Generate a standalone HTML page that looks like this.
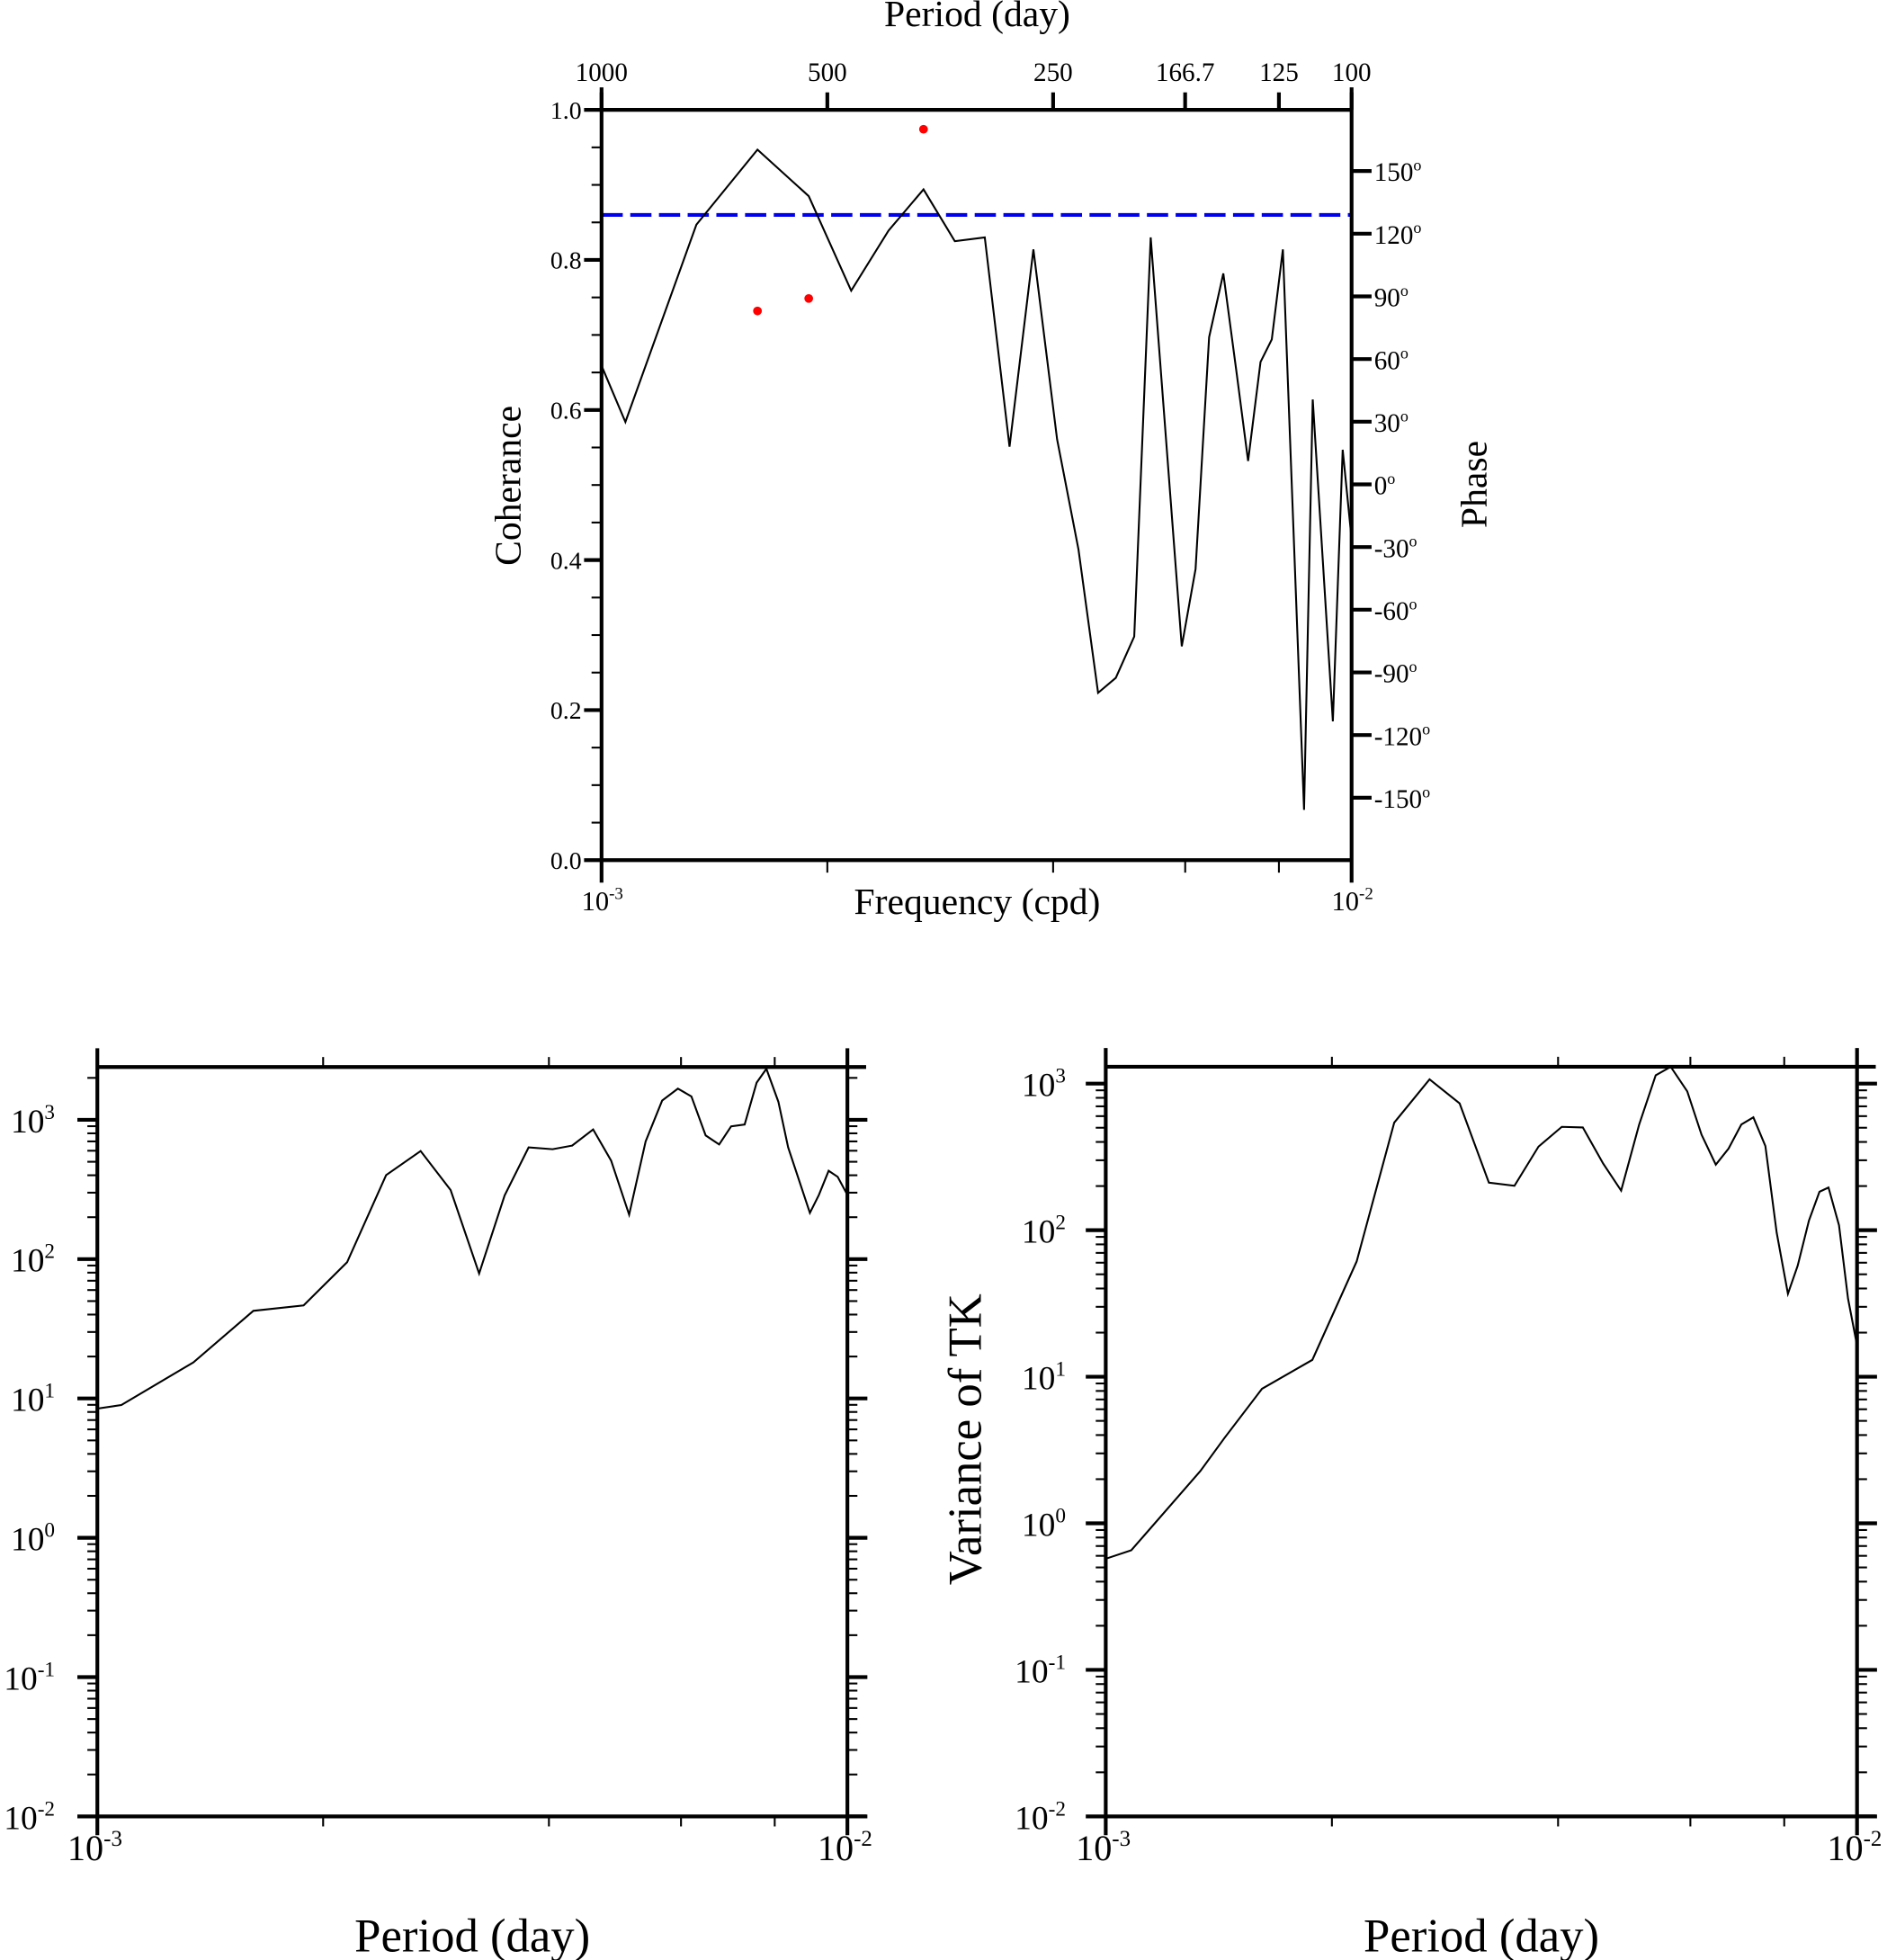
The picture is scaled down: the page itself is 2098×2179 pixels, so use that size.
<!DOCTYPE html>
<html><head><meta charset="utf-8"><style>
html,body{margin:0;padding:0;background:#fff;}
svg{display:block;font-family:"Liberation Serif",serif;}
</style></head><body>
<svg id="fig" width="2098" height="2179" viewBox="0 0 1512 1570" preserveAspectRatio="none" xmlns="http://www.w3.org/2000/svg"></svg>
<script>
// ---- Coherence/phase chart data ----
const cohFreq = [1.0e-3,1.076e-3,1.338e-3,1.614e-3,1.889e-3,2.152e-3,2.413e-3,2.687e-3,2.958e-3,3.243e-3,3.499e-3,3.765e-3,4.049e-3,4.324e-3,4.592e-3,4.849e-3,5.131e-3,5.397e-3,5.937e-3,6.194e-3,6.457e-3,6.745e-3,7.031e-3,7.278e-3,7.561e-3,7.827e-3,8.098e-3,8.642e-3,8.875e-3,9.441e-3,9.73e-3,1.0e-2];
const cohValues = [0.659,0.584,0.847,0.947,0.885,0.759,0.839,0.894,0.825,0.830,0.551,0.814,0.561,0.414,0.223,0.243,0.298,0.830,0.285,0.388,0.697,0.782,0.647,0.532,0.664,0.694,0.814,0.067,0.614,0.185,0.547,0.428];
const phaseFreq = [1.614e-3,1.889e-3,2.687e-3];
const phaseValues = [83,89,170];
const cohSignificance = 0.86;
const cohTicks = [0.0,0.2,0.4,0.6,0.8,1.0];
const phaseTicks = [150,120,90,60,30,0,-30,-60,-90,-120,-150];
const periodTicks = [1000,500,250,166.7,125,100];
const periodLabels = ["1000","500","250","166.7","125","100"];
// ---- Left spectrum ----
const specLogFreq = [0,.032,.128,.208,.275,.333,.385,.431,.471,.509,.543,.575,.607,.633,.661,.685,.709,.731,.753,.774,.792,.811,.829,.845,.863,.879,.892,.908,.921,.950,.962,.975,.987,1];
const specLeftLog = [0.927,0.953,1.259,1.629,1.668,1.978,2.603,2.776,2.496,1.897,2.457,2.802,2.789,2.815,2.931,2.707,2.319,2.845,3.138,3.224,3.168,2.888,2.823,2.953,2.966,3.267,3.366,3.129,2.802,2.332,2.461,2.634,2.591,2.461];
// ---- Right spectrum (Variance of TK) ----
const specRightLogFreq = [0,.034,.126,.158,.208,.275,.334,.384,.431,.471,.510,.544,.576,.607,.635,.662,.686,.710,.732,.752,.774,.793,.812,.829,.846,.862,.878,.893,.908,.921,.936,.950,.962,.976,.988,1];
const specRightLog = [-0.242,-0.184,0.357,0.582,0.918,1.115,1.787,2.734,3.029,2.865,2.324,2.303,2.570,2.705,2.701,2.455,2.270,2.721,3.057,3.115,2.947,2.652,2.447,2.557,2.721,2.770,2.574,1.984,1.566,1.758,2.066,2.262,2.291,2.033,1.533,1.213];
const decadeTicks = [3,2,1,0,-1,-2];

const NS="http://www.w3.org/2000/svg";
const svg=document.getElementById('fig');
function el(tag,attrs,parent){const e=document.createElementNS(NS,tag);for(const k in attrs)e.setAttribute(k,attrs[k]);(parent||svg).appendChild(e);return e;}
function line(x1,y1,x2,y2,w,name,p){const l=el('line',{x1,y1,x2,y2,stroke:'#000','stroke-width':w},p);

return l;}
function text(x,y,s,size,anchor,name,p){const t=el('text',{x,y,'font-size':size,'text-anchor':anchor||'start'},p);t.textContent=s;

return t;}
function supText(x,y,base,sup,size,anchor,name,p){const t=el('text',{x,y,'font-size':size,'text-anchor':anchor||'start'},p);


const a=document.createElementNS(NS,'tspan');a.textContent=base;t.appendChild(a);
const b=document.createElementNS(NS,'tspan');b.setAttribute('dy',-size*0.4);b.setAttribute('font-size',size*0.62);b.textContent=sup;t.appendChild(b);return t;}

// ===== Top chart =====
const T={x0:482,x1:1083,y0:689,y1:88};
const g1=el('g',{});


const fx=f=>T.x0+(Math.log10(f)+3)*(T.x1-T.x0);
const cy=v=>T.y0-v*(T.y0-T.y1);
const py=d=>388-d*(251/150);
const sig=el('line',{x1:T.x0,x2:T.x1,y1:cy(cohSignificance),y2:cy(cohSignificance),stroke:'#0000ee','stroke-width':3,'stroke-dasharray':'17,6'},g1);


const cp=el('polyline',{points:cohFreq.map((f,i)=>fx(f)+','+cy(cohValues[i])).join(' '),fill:'none',stroke:'#000','stroke-width':1.5},g1);


phaseFreq.forEach((f,i)=>{const c=el('circle',{cx:fx(f),cy:py(phaseValues[i]),r:3.5,fill:'#ff0000'},g1);

});
line(T.x0,T.y1,T.x1,T.y1,3,'top-axis',g1);
line(T.x0,T.y0,T.x1,T.y0,3,'bottom-axis',g1);
line(T.x0,T.y1,T.x0,T.y0+18,3,'left-axis',g1);
line(T.x1,T.y1-18,T.x1,T.y0+18,3,'right-axis',g1);
line(T.x0,T.y1,T.x0,T.y1-18,3,'top-tick',g1);
for(let k=0;k<=20;k++){const v=k*0.05;const maj=k%4===0;line(T.x0-(maj?14:8),cy(v),T.x0,cy(v),maj?3:1.5,'y-tick',g1);}
cohTicks.forEach(v=>text(T.x0-16,cy(v)+7,v.toFixed(1),20,'end','y-tick-label',g1));
phaseTicks.forEach(d=>{line(T.x1,py(d),T.x1+16,py(d),3,'phase-tick',g1);supText(T.x1+18,py(d)+8,String(d),'o',21,'start','phase-tick-label',g1);});
periodTicks.forEach((p,i)=>{const x=fx(1/p);line(x,T.y1,x,T.y1-14,3,'period-tick',g1);text(x,65,periodLabels[i],21,'middle','period-tick-label',g1);});
[2,4,6,8].forEach(m=>{const x=fx(m*1e-3);line(x,T.y0,x,T.y0+10,1.5,'x-minor-tick',g1);});
supText(T.x0-16,729,'10','-3',22,'start','x-tick-label',g1);
supText(T.x1-16,729,'10','-2',22,'start','x-tick-label',g1);
text(783,21,'Period (day)',30,'middle','top-axis-title',g1);
text(783,732,'Frequency (cpd)',30,'middle','x-axis-title',g1);
let t1=text(0,0,'Coherance',30,'middle','y-axis-title',g1);t1.setAttribute('transform','translate(417,389) rotate(-90)');
let t2=text(0,0,'Phase',30,'middle','phase-axis-title',g1);t2.setAttribute('transform','translate(1191,388) rotate(-90)');

// ===== Bottom charts =====
function spectrum(name,x0,x1,yDec3,decPx,topLog,lf,lv,labelRight,title){
 const g=el('g',{});
 
 
 const X=u=>x0+u*(x1-x0);
 const Y=l=>yDec3+(3-l)*decPx;
 const yTop=Y(topLog), yBot=Y(-2);
 const pl=el('polyline',{points:lf.map((u,i)=>X(u)+','+Y(lv[i])).join(' '),fill:'none',stroke:'#000','stroke-width':1.5},g);
 
 
 line(x0,yTop,x1+15,yTop,3,'top-axis',g);
 line(x0,yBot,x1+15,yBot,3,'bottom-axis',g);
 line(x0,yTop-15,x0,yBot+15,3,'left-axis',g);
 line(x1,yTop-15,x1,yBot+15,3,'right-axis',g);
 [2,4,6,8].forEach(m=>{const x=X(Math.log10(m));line(x,yTop,x,yTop-8,1.5,'x-minor-tick',g);line(x,yBot,x,yBot+8,1.5,'x-minor-tick',g);});
 for(let d=-2;d<=3;d++){
  for(let m=1;m<10;m++){const l=d+Math.log10(m);if(l>topLog)break;const y=Y(l);
   if(m===1){line(x0-16,y,x0,y,3,'y-major-tick',g);line(x1,y,x1+16,y,3,'y-major-tick',g);}
   else{line(x0-8,y,x0,y,1.5,'y-minor-tick',g);line(x1,y,x1+8,y,1.5,'y-minor-tick',g);}
  }}
 decadeTicks.forEach(d=>supText(labelRight-18,Y(d)+10,'10',String(d),27,'end','y-tick-label',g));
 supText(x0-24,1490,'10','-3',29,'start','x-tick-label',g);
 supText(x1-24,1490,'10','-2',29,'start','x-tick-label',g);
 text((x0+x1)/2,1563,'Period (day)',38,'middle','x-axis-title',g);
 if(title){const t=text(0,0,title,38,'middle','y-axis-title',g);t.setAttribute('transform','translate(786,1153) rotate(-90)');}
}
spectrum('left-spectrum-chart',78,679,897,111.6,3.379,specLogFreq,specLeftLog,62,null);
spectrum('right-spectrum-chart',886,1488,868,117.4,3.115,specRightLogFreq,specRightLog,872,'Variance of TK');
</script>
</body></html>
